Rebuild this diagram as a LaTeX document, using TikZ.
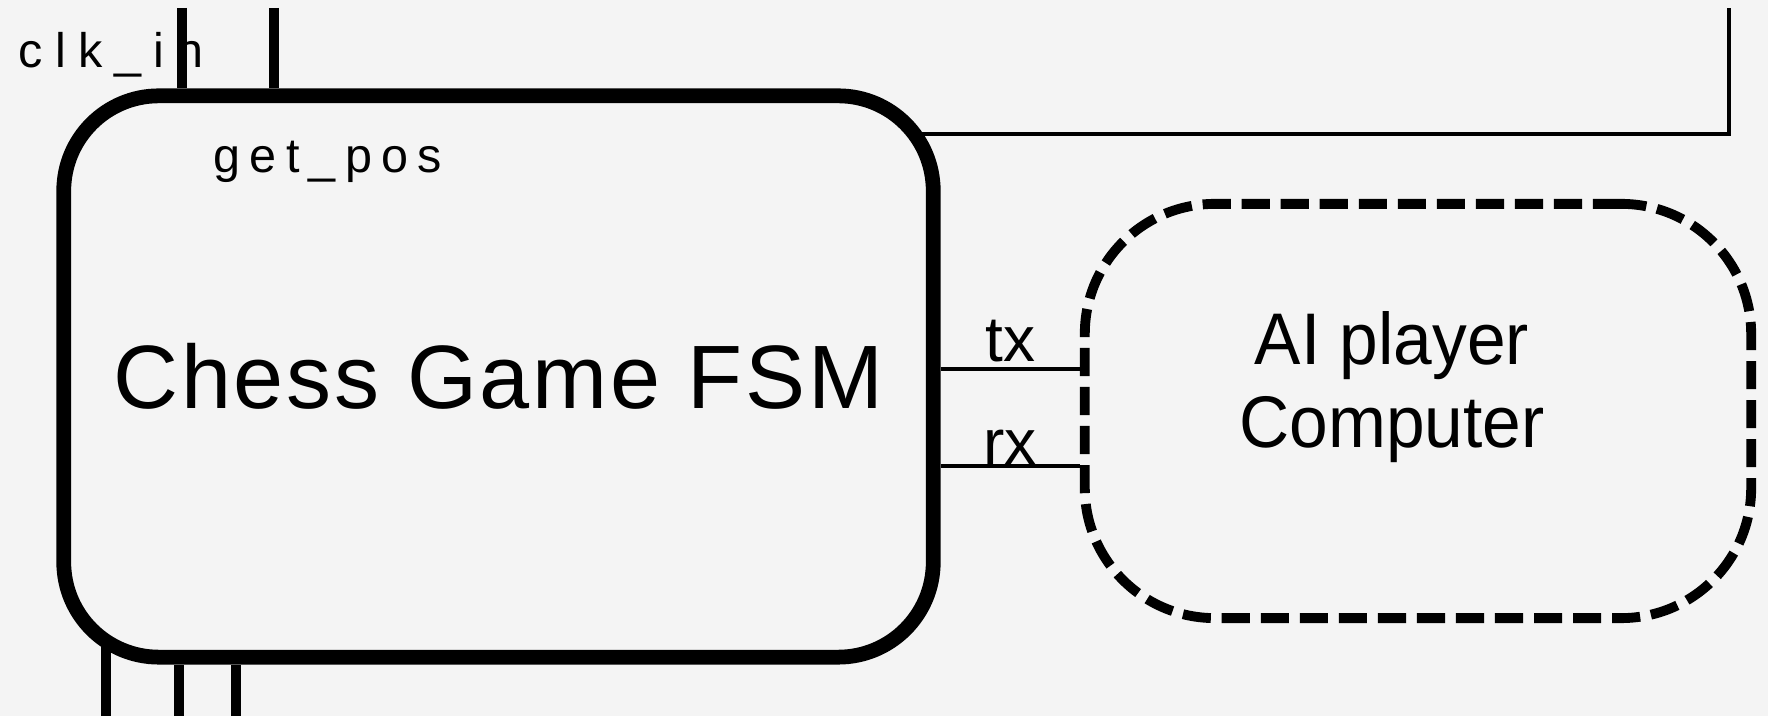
\documentclass[tikz,border=0pt]{standalone}
\usepackage{fontspec}
\setmainfont{Liberation Sans}
\newfontfamily\pinfont[LetterSpace=19]{Liberation Sans}
\newfontfamily\clkfont[LetterSpace=25]{Liberation Sans}
\newfontfamily\titlefont[LetterSpace=3]{Liberation Sans}
\newfontfamily\narrowfont[FakeStretch=0.95]{Liberation Sans}
\usetikzlibrary{positioning}
\definecolor{bgGrey}{HTML}{F4F4F4}

\begin{document}
\begin{tikzpicture}[x=0.01cm, y=-0.01cm,
  BlockStyle/.style = {shape=rectangle, rounded corners=0.95cm, draw, line width=4.2pt, inner sep=0pt, minimum width=8.69cm, minimum height=5.61cm, font=\titlefont\fontsize{25.6pt}{30pt}\selectfont},
  CpuStyle/.style = {shape=rectangle, rounded corners=1.3cm, draw, line width=2.8pt, dash pattern=on 8pt off 3.1pt, inner sep=0pt, minimum width=6.66cm, minimum height=4.14cm},
  PinStyle/.style = {line width=2.8pt},
  WireStyle/.style = {line width=1.15pt},
  PinLabel/.style = {anchor=base west, inner sep=0pt, font=\pinfont\fontsize{13.8pt}{16pt}\selectfont},
  WireLabel/.style = {inner sep=1.5pt, font=\fontsize{18.2pt}{20pt}\selectfont}]
  \path[use as bounding box, fill=bgGrey] (0,0) rectangle (1768,716);

  % blocks
  \node[BlockStyle] (fsm) at (498.5,376.5) {Chess Game FSM};
  \node[CpuStyle] (ai) at (1418,411) {};
  \node[align=center, inner sep=0pt, font=\narrowfont\fontsize{20.8pt}{23.6pt}\selectfont] (aitxt) at (1392,387) {AI player\\Computer};

  % pins on top
  \coordinate (clk) at (182,8);
  \coordinate (pos) at (274,8);
  \draw[PinStyle] (clk) -- (clk |- fsm.north);
  \draw[PinStyle] (pos) -- (pos |- fsm.north);
  \node[PinLabel, font=\clkfont\fontsize{13.8pt}{16pt}\selectfont] (clklbl) at (18,68) {clk\_in};
  \node[PinLabel] (poslbl) at (213,173) {get\_pos};

  % pins below
  \coordinate (pinA) at (106,716);
  \coordinate (pinB) at (179,716);
  \coordinate (pinC) at (236,716);
  \draw[PinStyle] (pinA) -- ++(0,-76);
  \draw[PinStyle] (pinB) -- (pinB |- fsm.south);
  \draw[PinStyle] (pinC) -- (pinC |- fsm.south);

  % line to the right
  \coordinate (outA) at (914,134);
  \coordinate (outB) at (1729,8);
  \draw[WireStyle] (outA) -- (outA -| outB) -- (outB);

  % serial link
  \draw[WireStyle] ([yshift=0.075cm]fsm.east) coordinate (txa) -- (txa -| ai.west)
    node[midway, above, WireLabel] (txlbl) {tx};
  \draw[WireStyle] ([yshift=-0.895cm]fsm.east) coordinate (rxa) -- (rxa -| ai.west)
    node[midway, above, WireLabel, inner sep=0pt] (rxlbl) {rx};
\end{tikzpicture}
\end{document}
